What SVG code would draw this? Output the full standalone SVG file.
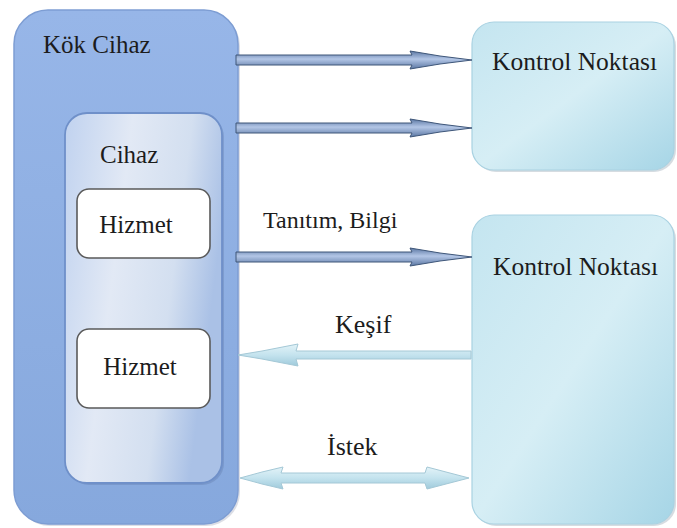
<svg xmlns="http://www.w3.org/2000/svg" width="677" height="528" viewBox="0 0 677 528">
<defs>
<linearGradient id="gOuter" x1="0" y1="0" x2="0" y2="1">
<stop offset="0" stop-color="#97b6e8"/>
<stop offset="1" stop-color="#86a8dd"/>
</linearGradient>
<linearGradient id="gInner" x1="0" y1="0" x2="1" y2="0.3">
<stop offset="0" stop-color="#c0d2ef"/>
<stop offset="0.4" stop-color="#e2e9f5"/>
<stop offset="0.75" stop-color="#d3dff0"/>
<stop offset="1" stop-color="#aac1e6"/>
</linearGradient>
<linearGradient id="gCP" x1="0" y1="0" x2="1" y2="1">
<stop offset="0" stop-color="#c4e5f0"/>
<stop offset="0.5" stop-color="#d6eef5"/>
<stop offset="1" stop-color="#a6d5e6"/>
</linearGradient>
<linearGradient id="gDark" x1="0" y1="0" x2="0" y2="1">
<stop offset="0" stop-color="#5b77a3"/>
<stop offset="0.45" stop-color="#b3c6e6"/>
<stop offset="1" stop-color="#5b77a3"/>
</linearGradient>
<linearGradient id="gLight" x1="0" y1="0" x2="0" y2="1">
<stop offset="0" stop-color="#e3f3f8"/>
<stop offset="0.5" stop-color="#c4e3ee"/>
<stop offset="1" stop-color="#9fcadb"/>
</linearGradient>
<path id="arrDark" d="M236,-5 H412 L410,-9 L440,-4 L472,0 L440,4 L410,9 L412,5 H236 Z" fill="url(#gDark)" stroke="#3e5679" stroke-width="1"/>
</defs>
<rect width="677" height="528" fill="#fff"/>

<g id="kok-cihaz">
<rect x="16" y="12" width="224" height="514" rx="34" fill="#8a93a8" opacity="0.3"/>
<rect x="14" y="10" width="224" height="514" rx="34" fill="url(#gOuter)" stroke="#7d9dd3" stroke-width="1.5"/>
<text x="43" y="53" style="font-family:'Liberation Serif',serif" font-family="Liberation Serif" font-size="25" fill="#1c1c1c">Kök Cihaz</text>
</g>

<g id="cihaz">
<rect x="67" y="115" width="157" height="370" rx="22" fill="#5f78a8" opacity="0.35"/>
<rect x="65" y="113" width="157" height="370" rx="22" fill="url(#gInner)" stroke="#6f90c9" stroke-width="1.8"/>
<text x="100" y="163" style="font-family:'Liberation Serif',serif" font-family="Liberation Serif" font-size="25" fill="#1c1c1c">Cihaz</text>
</g>

<g id="hizmet1">
<rect x="77" y="189" width="133" height="69" rx="12" fill="#fff" stroke="#5a5a5a" stroke-width="1.6"/>
<text x="136" y="233" style="font-family:'Liberation Serif',serif" font-family="Liberation Serif" font-size="25" fill="#1c1c1c" text-anchor="middle">Hizmet</text>
</g>

<g id="hizmet2">
<rect x="77" y="329" width="133" height="79" rx="12" fill="#fff" stroke="#5a5a5a" stroke-width="1.6"/>
<text x="140" y="375" style="font-family:'Liberation Serif',serif" font-family="Liberation Serif" font-size="25" fill="#1c1c1c" text-anchor="middle">Hizmet</text>
</g>

<g id="kontrol1">
<rect x="474" y="24" width="202" height="148" rx="22" fill="#8a9aa8" opacity="0.35"/>
<rect x="472" y="22" width="202" height="148" rx="22" fill="url(#gCP)" stroke="#a9d2e2" stroke-width="1.2"/>
<text x="492" y="70" style="font-family:'Liberation Serif',serif" font-family="Liberation Serif" font-size="25.5" fill="#1c1c1c">Kontrol Noktası</text>
</g>

<g id="kontrol2">
<rect x="474" y="217" width="202" height="309" rx="22" fill="#8a9aa8" opacity="0.35"/>
<rect x="472" y="215" width="202" height="309" rx="22" fill="url(#gCP)" stroke="#a9d2e2" stroke-width="1.2"/>
<text x="493" y="275" style="font-family:'Liberation Serif',serif" font-family="Liberation Serif" font-size="25.5" fill="#1c1c1c">Kontrol Noktası</text>
</g>

<g id="connectors">
<use href="#arrDark" transform="translate(0,60)"/>
<use href="#arrDark" transform="translate(0,128)"/>
<use href="#arrDark" transform="translate(0,257)"/>
<text x="263" y="228" style="font-family:'Liberation Serif',serif" font-family="Liberation Serif" font-size="24" fill="#1c1c1c">Tanıtım, Bilgi</text>
<path d="M471,351 H296 L298,344 L262,351 L238,355 L262,359 L298,366 L296,359 H471 Z" fill="url(#gLight)" stroke="#a4c8d6" stroke-width="1"/>
<text x="335" y="333" style="font-family:'Liberation Serif',serif" font-family="Liberation Serif" font-size="26" fill="#1c1c1c">Keşif</text>
<path d="M240,478 L262,472 L283,467 L281,473 H425 L427,467 L446,472 L469,478 L446,484 L427,489 L425,483 H281 L283,489 L262,484 Z" fill="url(#gLight)" stroke="#a4c8d6" stroke-width="1"/>
<text x="327" y="455" style="font-family:'Liberation Serif',serif" font-family="Liberation Serif" font-size="26" fill="#1c1c1c">İstek</text>
</g>
</svg>
